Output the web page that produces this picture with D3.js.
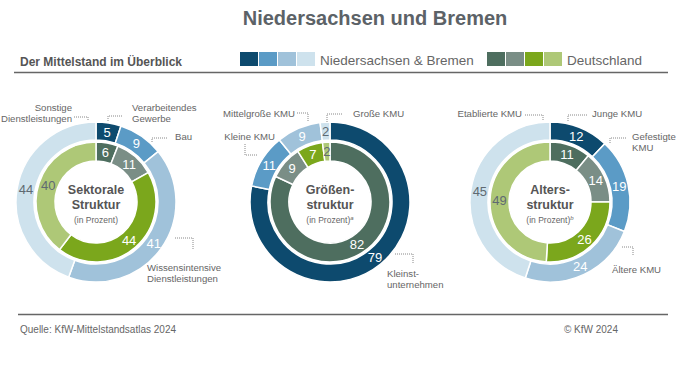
<!DOCTYPE html>
<html>
<head>
<meta charset="utf-8">
<script src="https://cdn.jsdelivr.net/npm/d3@7"></script>
<style>
  body { margin: 0; background: #fff; }
  svg text { font-family: "Liberation Sans", Arial, sans-serif; }
</style>
</head>
<body>
<div id="chart"></div>
<script>

// values, clockwise from 12 o'clock
var sektorCats = ["Verarbeitendes Gewerbe", "Bau", "Wissensintensive Dienstleistungen", "Sonstige Dienstleistungen"];
var sektorNB = [5, 9, 41, 44];
var sektorDE = [6, 11, 44, 40];

var groesseCats = ["Kleinstunternehmen", "Kleine KMU", "Mittelgroße KMU", "Große KMU"];
var groesseNB = [79, 11, 9, 2];
var groesseDE = [82, 9, 7, 2];

var alterCats = ["Junge KMU", "Gefestigte KMU", "Ältere KMU", "Etablierte KMU"];
var alterNB = [12, 19, 24, 45];
var alterDE = [11, 14, 26, 49];

var blues = ["#0d4a6e", "#5b9bc6", "#a0c2da", "#cee2ed"];
var greens = ["#4e6e5f", "#7a8e86", "#7ba71c", "#aec877"];

var width = 696, height = 392;
var textGray = "#666";

var svg = d3.select("#chart").append("svg")
  .attr("width", width)
  .attr("height", height);

// header
svg.append("text")
  .attr("x", 375).attr("y", 25)
  .attr("text-anchor", "middle")
  .style("font-size", "20px").style("font-weight", "bold")
  .style("fill", "#5c6267")
  .text("Niedersachsen und Bremen");

svg.append("text")
  .attr("x", 20).attr("y", 66)
  .style("font-size", "12px").style("font-weight", "bold")
  .style("fill", "#555")
  .text("Der Mittelstand im Überblick");

function legend(x, colors, label) {
  svg.append("g").selectAll("rect")
    .data(colors)
    .enter().append("rect")
      .attr("x", function(d, i) { return x + i * 19; })
      .attr("y", 52)
      .attr("width", 18)
      .attr("height", 14)
      .style("fill", function(d) { return d; });
  svg.append("text")
    .attr("x", x + 80).attr("y", 65)
    .style("font-size", "13.5px")
    .style("fill", textGray)
    .text(label);
}
legend(240, blues, "Niedersachsen & Bremen");
legend(487, greens, "Deutschland");

svg.append("line")
  .attr("x1", 14).attr("x2", 668).attr("y1", 72.5).attr("y2", 72.5)
  .style("stroke", "#666").style("stroke-width", 1.5);

svg.append("line")
  .attr("x1", 18).attr("x2", 668).attr("y1", 314.5).attr("y2", 314.5)
  .style("stroke", "#666").style("stroke-width", 1.5);

svg.append("text")
  .attr("x", 20).attr("y", 333)
  .style("font-size", "10px").style("fill", textGray)
  .text("Quelle: KfW-Mittelstandsatlas 2024");

svg.append("text")
  .attr("x", 618).attr("y", 333)
  .attr("text-anchor", "end")
  .style("font-size", "10px").style("fill", textGray)
  .text("© KfW 2024");

var pie = d3.pie().sort(null).value(function(d) { return d; });
var cy = 202;

function ring(g, values, colors, r0, r1) {
  var arc = d3.arc().innerRadius(r0).outerRadius(r1);
  var arcs = pie(values);
  g.append("g").selectAll("path")
    .data(arcs)
    .enter().append("path")
      .attr("d", arc)
      .style("fill", function(d, i) { return colors[i]; })
      .style("stroke", "#fff")
      .style("stroke-width", 1.5);
  g.append("g").selectAll("text")
    .data(arcs)
    .enter().append("text")
      .attr("transform", function(d) { return "translate(" + arc.centroid(d) + ")"; })
      .attr("text-anchor", "middle")
      .attr("dy", "0.36em")
      .style("font-size", "13px")
      .style("fill", function(d, i) { return i == 3 ? "#5f6a72" : "#fff"; })
      .text(function(d) { return d.data; });
}

// callouts: label lines, text position, anchor, leader path (relative to centre)
function donut(cx, nb, de, title, sup, notes) {
  var g = svg.append("g").attr("transform", "translate(" + cx + "," + cy + ")");
  ring(g, nb, blues, 62, 80);
  ring(g, de, greens, 41, 60);

  var t = g.append("text").attr("text-anchor", "middle")
    .style("font-size", "12.5px").style("font-weight", "bold").style("fill", "#555");
  t.append("tspan").attr("x", 0).attr("y", -8).text(title[0]);
  t.append("tspan").attr("x", 0).attr("y", 6.5).text(title[1]);

  var s = g.append("text").attr("text-anchor", "middle").attr("y", 21)
    .style("font-size", "8.5px").style("fill", textGray);
  s.append("tspan").text("(in Prozent)");
  if (sup) s.append("tspan").attr("dy", -3).style("font-size", "6px").style("font-style", "italic").text(sup);

  notes.forEach(function(n) {
    g.append("path")
      .attr("d", d3.line()(n.path))
      .style("fill", "none")
      .style("stroke", "#888")
      .style("stroke-width", 1)
      .style("stroke-dasharray", "1,1");
    var tx = g.append("text")
      .attr("text-anchor", n.anchor)
      .style("font-size", "9.6px")
      .style("fill", textGray);
    n.lines.forEach(function(l, i) {
      tx.append("tspan").attr("x", n.x).attr("y", n.y + i * 10.5).text(l);
    });
  });
}

donut(96, sektorNB, sektorDE, ["Sektorale", "Struktur"], null, [
  { lines: ["Sonstige", "Dienstleistungen"], x: -24, y: -91, anchor: "end",
    path: [[-22, -85], [-8, -85], [-8, -81]] },
  { lines: ["Verarbeitendes", "Gewerbe"], x: 36, y: -91, anchor: "start",
    path: [[12, -81], [12, -86], [26, -86]] },
  { lines: ["Bau"], x: 79, y: -62, anchor: "start",
    path: [[56, -60], [56, -64], [71, -64]] },
  { lines: ["Wissensintensive", "Dienstleistungen"], x: 51, y: 69, anchor: "start",
    path: [[79, 36], [97, 36], [97, 48]] }
]);

donut(330, groesseNB, groesseDE, ["Größen-", "struktur"], "a", [
  { lines: ["Mittelgroße KMU"], x: -35, y: -85, anchor: "end",
    path: [[-33, -89], [-22, -89], [-22, -80]] },
  { lines: ["Große KMU"], x: 23, y: -85, anchor: "start",
    path: [[-3, -80], [-3, -88], [13, -88]] },
  { lines: ["Kleine KMU"], x: -55, y: -62, anchor: "end",
    path: [[-85, -58], [-85, -47], [-73, -47]] },
  { lines: ["Kleinst-", "unternehmen"], x: 57, y: 75, anchor: "start",
    path: [[65, 52], [83, 52], [83, 61]] }
]);

donut(550, alterNB, alterDE, ["Alters-", "struktur"], "b", [
  { lines: ["Etablierte KMU"], x: -28, y: -85, anchor: "end",
    path: [[-25, -87], [-7, -87], [-7, -82]] },
  { lines: ["Junge KMU"], x: 42, y: -85, anchor: "start",
    path: [[18, -81], [18, -87], [37, -87]] },
  { lines: ["Gefestigte", "KMU"], x: 82, y: -62, anchor: "start",
    path: [[60, -59], [60, -64], [77, -64]] },
  { lines: ["Ältere KMU"], x: 62, y: 71, anchor: "start",
    path: [[72, 45], [83, 45], [83, 53]] }
]);

</script>
</body>
</html>
